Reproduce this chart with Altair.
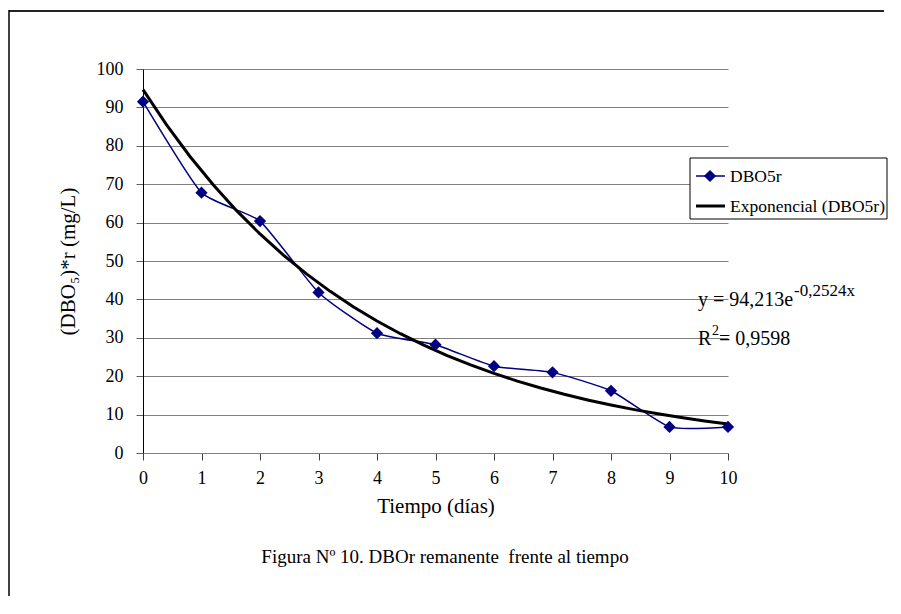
import altair as alt
import pandas as pd

dias = [0, 1, 2, 3, 4, 5, 6, 7, 8, 9, 10]
dbo5r = [91.5, 67.8, 60.4, 41.8, 31.2, 28.2, 22.6, 21.0, 16.2, 6.8, 6.8]
y_ticks = [0, 10, 20, 30, 40, 50, 60, 70, 80, 90, 100]

df = pd.DataFrame({"dia": dias, "dbo": dbo5r})
FONT = "Liberation Serif"
W, H = 585, 384

xs = alt.X("dia:Q", scale=alt.Scale(domain=[0, 10], nice=False),
           axis=alt.Axis(title="Tiempo (días)", values=dias, format="d", grid=False,
                         tickSize=7, tickColor="#404040", domainColor="#808080",
                         labelPadding=9, titlePadding=8, labelFlush=False,
                         labelFont=FONT, titleFont=FONT, labelFontSize=18, titleFontSize=21))
ys = alt.Y("dbo:Q", scale=alt.Scale(domain=[0, 100], nice=False),
           axis=alt.Axis(title="(DBO₅)*r (mg/L)", values=y_ticks, grid=True,
                         gridColor="#808080", tickSize=7, tickColor="#606060",
                         domainColor="#000000", labelPadding=13, titlePadding=18,
                         labelFont=FONT, titleFont=FONT, labelFontSize=18, titleFontSize=21))

base = alt.Chart(df)
line = base.mark_line(color="#000080", strokeWidth=1.5, interpolate="cardinal", tension=0.5).encode(x=xs, y=ys)
pts = base.mark_point(shape="diamond", filled=True, color="#000080", size=150, opacity=1).encode(x=xs, y=ys)
# Excel-style exponential trendline: least squares on ln(y), back-transformed
trend = base.transform_calculate(
    logdbo="log(datum.dbo)"
).transform_regression("dia", "logdbo", method="poly", order=1, extent=[0, 10]).transform_calculate(
    dbo="exp(datum.logdbo)"
).mark_line(color="#000000", strokeWidth=3).encode(x=xs, y=ys)

one = alt.Data(values=[{}])

def txt(s, x, y, size, align="left"):
    return alt.Chart(one).mark_text(text=s, font=FONT, fontSize=size, align=align,
                                    baseline="alphabetic", color="#000000").encode(
        x=alt.value(x), y=alt.value(y))

# outer frame (top and left edges; the rest lies outside the picture)
frame_top = alt.Chart(one).mark_rule(color="#222222", strokeWidth=2).encode(
    x=alt.value(-134), x2=alt.value(741), y=alt.value(-58))
frame_left = alt.Chart(one).mark_rule(color="#000000", strokeWidth=1.5).encode(
    x=alt.value(-134), y=alt.value(-59), y2=alt.value(600))

# legend
lx0, lx1, ly0, ly1 = 547, 744, 89, 150
leg_box = alt.Chart(one).mark_rect(fill="#ffffff", stroke="#000000", strokeWidth=1).encode(
    x=alt.value(lx0), x2=alt.value(lx1), y=alt.value(ly0), y2=alt.value(ly1))
leg_l1 = alt.Chart(one).mark_rule(color="#000080", strokeWidth=1.5).encode(
    x=alt.value(553), x2=alt.value(582), y=alt.value(107))
leg_p1 = alt.Chart(one).mark_point(shape="diamond", filled=True, color="#000080", size=150, opacity=1).encode(
    x=alt.value(567), y=alt.value(107))
leg_l2 = alt.Chart(one).mark_rule(color="#000000", strokeWidth=3).encode(
    x=alt.value(553), x2=alt.value(582), y=alt.value(137))
leg_t1 = txt("DBO5r", 587, 113, 17.5)
leg_t2 = txt("Exponencial (DBO5r)", 587, 143, 17.5)

# equation
eq1 = txt("y = 94,213e", 555, 237, 20)
eq1s = txt("-0,2524x", 651, 227, 17)
eq2 = txt("R", 555, 276, 20)
eq2s = txt("2", 569, 266, 14)
eq2b = txt(" = 0,9598", 576, 276, 20)

caption = txt("Figura Nº 10. DBOr remanente \u00a0frente al tiempo", 302, 494, 19, align="center")

chart = alt.layer(frame_top, frame_left, line, trend, pts, leg_box, leg_l1, leg_p1, leg_l2,
                  leg_t1, leg_t2, eq1, eq1s, eq2, eq2s, eq2b, caption).properties(
    width=W, height=H,
    autosize=alt.AutoSizeParams(type="none"),
    padding={"left": 135, "top": 61, "right": 160, "bottom": 143},
    background="#ffffff",
).configure_view(strokeWidth=0).configure_axis(
    labelColor="#000000", titleColor="#000000", titleFontWeight="normal",
)

chart.save("out.html", embed_options={"renderer": "svg", "actions": False})
